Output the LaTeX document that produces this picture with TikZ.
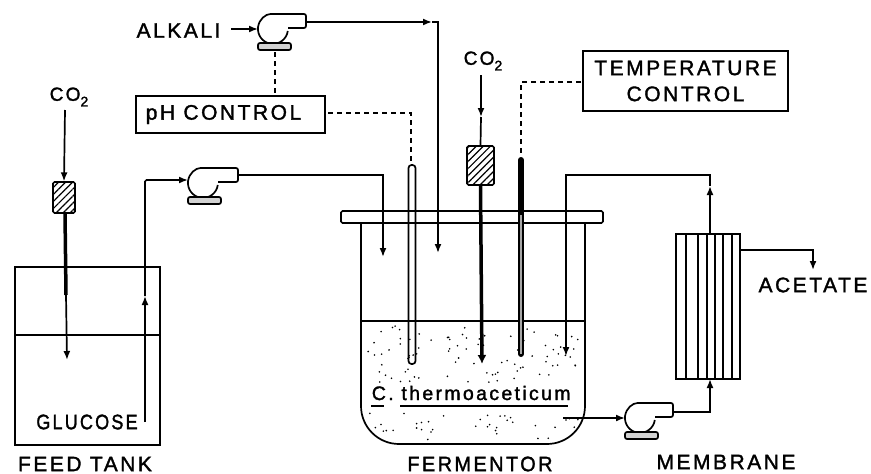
\documentclass[tikz,border=0pt]{standalone}
\usepackage{fontspec}
\setmainfont[LetterSpace=12,FakeBold=1.6]{Liberation Sans}
\usetikzlibrary{arrows.meta,patterns.meta}
\tikzset{
  label/.style={inner sep=0pt,font=\fontsize{21}{25}\selectfont},
  ctrlbox/.style={draw,inner sep=0pt,line width=1.7pt,font=\fontsize{21}{25}\selectfont,align=center},
  filter/.style={draw,rounded corners=1.5pt,line width=1.6pt,pattern={Lines[angle=45,distance=5pt,line width=1.2pt]}},
  signal/.style={dashed,dash pattern=on 5pt off 4pt,line width=1.5pt},
  pics/pump/.style={code={
    \draw[rounded corners=2pt] (14.8,2) arc (8:270:15) -- (#1,-15) -- (#1,-1) -- (15,-1);
    \draw[rounded corners=2pt,fill=gray!35] (-15,14) rectangle (18,21);
  }}
}
\newcommand{\cotwo}{CO\raisebox{-.3em}{\fontsize{14}{14}\selectfont 2}}
\begin{document}
\begin{tikzpicture}[x=1pt,y=-1pt,>={Latex[length=9pt,width=7pt]},line width=1.7pt]
\useasboundingbox (0,0) rectangle (871,474);
% pumps
\coordinate (Pa) at (273,29);
\coordinate (Pb) at (203,183);
\coordinate (Pc) at (640,418);
\pic at (Pa) {pump=33};
\pic at (Pb) {pump=35};
\pic at (Pc) {pump=33};
% feed tank
\coordinate (Ta) at (15,267);
\coordinate (Tb) at (160,445);
\coordinate (La) at (15,335);
\coordinate (Lb) at (160,335);
\draw (Ta) rectangle (Tb);
\draw (La) -- (Lb);
\node[label] (glucose) at (87,422) {\scalebox{0.86}[1]{GLUCOSE}};
\node[label] (feedtank) at (85,464) {FEED TANK};
% fermentor
\coordinate (Fa) at (361,223);
\coordinate (Fb) at (361,444);
\coordinate (Fc) at (585,444);
\coordinate (Fd) at (585,223);
\coordinate (Ma) at (361,321);
\coordinate (Mb) at (585,321);
\coordinate (Ca) at (341,211);
\coordinate (Cb) at (603,223);
\begin{scope}
\clip[rounded corners=38] (Ma) -- (Fb) -- (Fc) -- (Mb) -- cycle;
\pgfmathsetseed{42}
\foreach \i in {1,...,90}
  \fill ({365+rnd*216},{326+rnd*58}) circle (0.9);
\foreach \i in {1,...,40}
  \fill ({365+rnd*216},{412+rnd*28}) circle (0.9);
\end{scope}
\draw[rounded corners=38] (Fa) -- (Fb) -- (Fc) -- (Fd);
\draw[rounded corners=1.5pt] (Ca) rectangle (Cb);
\draw (Ma) -- (Mb);
\node[label,anchor=base west,font=\fontsize{19.5}{23}\selectfont] (culture) at (371,400) {C. thermoaceticum};
\coordinate (Ua) at (371,406);
\coordinate (Ub) at (384,406);
\coordinate (Uc) at (400,406);
\coordinate (Ud) at (568,406);
\draw (Ua) -- (Ub);
\draw (Uc) -- (Ud);
\node[label] (fermentor) at (480,464) {\scalebox{0.95}[1]{FERMENTOR}};
% membrane
\coordinate (Ra) at (676,234);
\coordinate (Rb) at (740,379);
\draw (Ra) rectangle (Rb);
\foreach \x in {686,698,707,715,723,732}
  \draw (\x,234) -- (\x,379);
\node[label] (membrane) at (726,462) {MEMBRANE};
\node[label] (acetate) at (813,285) {ACETATE};
% control boxes
\node[ctrlbox,minimum width=189pt,minimum height=37pt] (phbox) at (230.5,114.5) {pH CONTROL\hspace{14pt}};
\node[ctrlbox,minimum width=205pt,minimum height=60pt] (tempbox) at (685.5,81) {TEMPERATURE\\[1pt]CONTROL};
% probes
\coordinate (Ha) at (408.5,165);
\coordinate (Hb) at (415.5,364);
\draw[rounded corners=3pt] (Ha) rectangle (Hb);
\coordinate (Ja) at (521,160);
\coordinate (Jb) at (521,354);
\coordinate (Jc) at (521,215);
\draw[line width=6pt,line cap=round] (Ja) -- (Jb);
\draw[line width=2pt,gray!70] (Jc) -- (Jb);
% gas lines
\node[label,font=\fontsize{19}{23}\selectfont] (coa) at (69,97) {\cotwo};
\node[filter,minimum width=22pt,minimum height=31pt] (fa) at (64,197.5) {};
\coordinate (Ga) at (65,110);
\coordinate (Gb) at (65,213);
\coordinate (Gc) at (66,295);
\coordinate (Gd) at (67,360);
\draw[->] (Ga) -- (fa.north);
\draw[line width=3.5pt] (Gb) -- (Gc);
\draw[->] (Gc) -- (Gd);
\node[label,font=\fontsize{19}{23}\selectfont] (cob) at (483,61) {\cotwo};
\node[filter,minimum width=27pt,minimum height=39pt] (fb) at (480.5,165.5) {};
\coordinate (Gf) at (481,75);
\coordinate (Gg) at (481,117);
\coordinate (Gh) at (482,364);
\draw[->] (Gf) -- (Gg);
\draw (Gg) -- (fb.north);
\draw[line width=3.5pt,-{Latex[length=9pt,width=9pt]}] (fb.south) -- (Gh);
% liquid lines
\coordinate (Da) at (145,422);
\coordinate (Db) at (145,296);
\coordinate (Dc) at (145,180);
\coordinate (Dd) at (188,180);
\draw[->] (Da) -- (Db);
\draw[->,rounded corners=1.5pt] (Db) -- (Dc) -- (Dd);
\coordinate (De) at (238,175);
\coordinate (Df) at (383,175);
\coordinate (Dg) at (383,257);
\draw[->] (De) -- (Df) -- (Dg);
\node[label] (alkali) at (178.5,30.5) {ALKALI};
\coordinate (Ea) at (231,29);
\coordinate (Eb) at (258,29);
\draw[->] (Ea) -- (Eb);
\coordinate (Ec) at (306,22);
\coordinate (Ed) at (432,22);
\coordinate (Ee) at (438,22);
\coordinate (Ef) at (438,253);
\draw[->] (Ec) -- (Ed);
\draw[->] (Ed) -- (Ee) -- (Ef);
% recycle
\coordinate (Na) at (563,418);
\coordinate (Nb) at (625,418);
\draw[->] (Na) -- (Nb);
\coordinate (Nc) at (673,412);
\coordinate (Nd) at (710,412);
\coordinate (Ne) at (710,379);
\draw[->] (Nc) -- (Nd) -- (Ne);
\coordinate (Qa) at (710,234);
\coordinate (Qb) at (710,186);
\coordinate (Qc) at (710,175);
\coordinate (Qd) at (566,175);
\coordinate (Qe) at (566,356);
\draw[->] (Qa) -- (Qb);
\draw[->] (Qb) -- (Qc) -- (Qd) -- (Qe);
\coordinate (Ya) at (740,250);
\coordinate (Yb) at (813,250);
\coordinate (Yc) at (813,270);
\draw[->] (Ya) -- (Yb) -- (Yc);
% signals
\coordinate (Sa) at (275,52);
\coordinate (Sb) at (275,96);
\draw[signal] (Sa) -- (Sb);
\coordinate (Sc) at (328,113);
\coordinate (Sd) at (411,113);
\coordinate (Se) at (411,164);
\draw[signal] (Sc) -- (Sd) -- (Se);
\coordinate (Sf) at (581,82);
\coordinate (Sg) at (521,82);
\coordinate (Sh) at (521,156);
\draw[signal] (Sf) -- (Sg) -- (Sh);
\end{tikzpicture}
\end{document}
